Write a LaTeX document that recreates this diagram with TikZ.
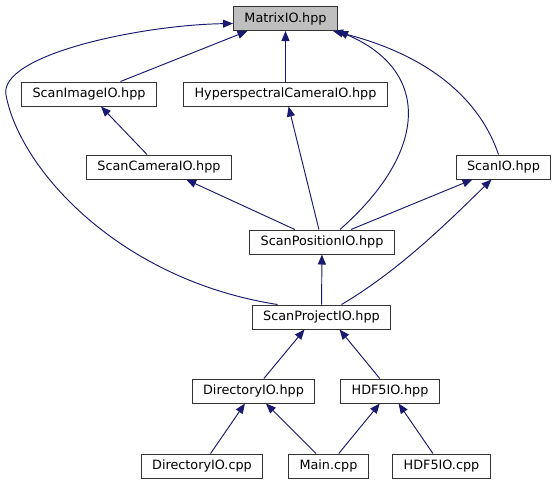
\documentclass[tikz,border=0pt]{standalone}
\usepackage{fontspec}
\setmainfont{DejaVu Sans}
\usetikzlibrary{arrows.meta}
\definecolor{midnight}{HTML}{191970}

\begin{document}
\begin{tikzpicture}[
  x=1pt, y=-1pt,
  >={Triangle[length=10pt,width=8pt]},
  file/.style={draw=black!80, line width=1pt, fill=white,
    minimum height=24pt, inner xsep=11pt, inner ysep=0pt,
    font=\fontsize{12.8}{15}\selectfont},
  root/.style={file, fill=black!25},
  dep/.style={->, draw=midnight, line width=0.95pt}
]
  \useasboundingbox (0,0) rectangle (556,485);

  % headers and sources
  \node[root] (matrix) at (285.5,18.5) {MatrixIO.hpp};
  \node[file] (scanimage) at (89,94) {ScanImageIO.hpp};
  \node[file] (hyper) at (285.5,94) {HyperspectralCameraIO.hpp};
  \node[file] (scancamera) at (159,167) {ScanCameraIO.hpp};
  \node[file] (scanio) at (503.5,167) {ScanIO.hpp};
  \node[file] (scanpos) at (322,242) {ScanPositionIO.hpp};
  \node[file] (scanproj) at (321.5,317) {ScanProjectIO.hpp};
  \node[file] (dirhpp) at (253.5,391) {DirectoryIO.hpp};
  \node[file] (hdfhpp) at (390,391) {HDF5IO.hpp};
  \node[file] (dircpp) at (202,466) {DirectoryIO.cpp};
  \node[file] (maincpp) at (328.5,466) {Main.cpp};
  \node[file] (hdfcpp) at (441.5,466) {HDF5IO.cpp};

  % include edges
  \draw[dep] (scanimage) -- ([xshift=-38pt]matrix.south);
  \draw[dep] (hyper) -- (matrix);
  \draw[dep] ([xshift=-5pt]scanio.north) .. controls (480,100) and (430,55) .. ([xshift=-5pt]matrix.south east);
  \draw[dep] ([xshift=18pt]scanpos.north) .. controls (430,150) and (430,70) .. (matrix.south east);
  \draw[dep] ([xshift=-44pt]scanproj.north) .. controls (120,280) and (20,170) .. (6,95)
    .. controls (-1.5,55) and (140,25) .. ([yshift=-5pt]matrix.west);
  \draw[dep] (scancamera) -- (scanimage);
  \draw[dep] (scanpos) -- (scancamera);
  \draw[dep] (scanpos) -- (hyper);
  \draw[dep] ([xshift=29pt]scanpos.north) -- ([xshift=-31pt]scanio.south);
  \draw[dep] (scanproj) -- (scanpos);
  \draw[dep] ([xshift=20pt]scanproj.north) .. controls (400,270) and (450,220) .. ([xshift=-12pt]scanio.south);
  \draw[dep] (dirhpp) -- ([xshift=-17pt]scanproj.south);
  \draw[dep] (hdfhpp) -- ([xshift=18pt]scanproj.south);
  \draw[dep] (dircpp) -- (dirhpp);
  \draw[dep] (maincpp) -- (dirhpp);
  \draw[dep] (maincpp) -- (hdfhpp);
  \draw[dep] (hdfcpp) -- (hdfhpp);
\end{tikzpicture}
\end{document}
